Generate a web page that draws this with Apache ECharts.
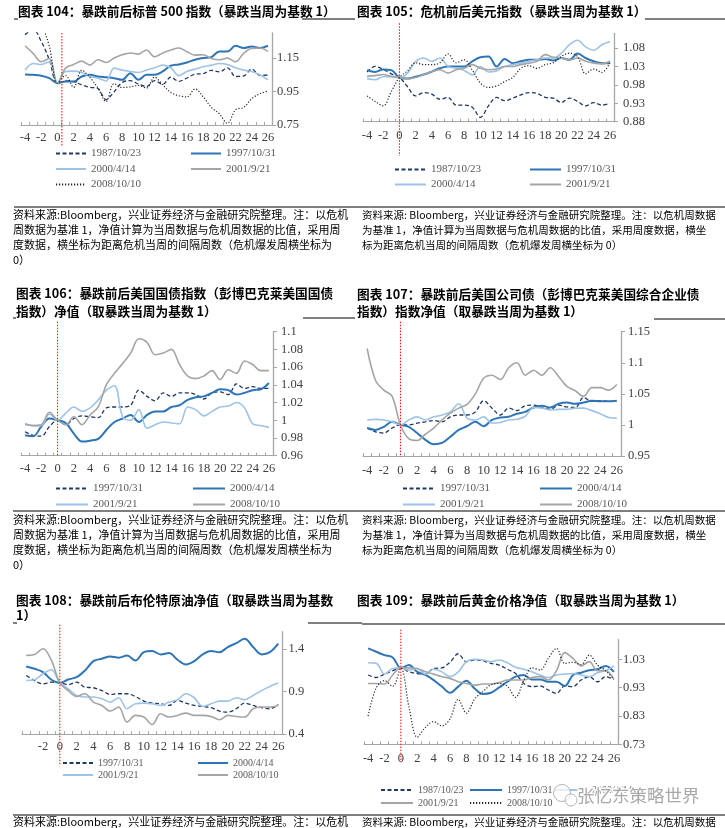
<!DOCTYPE html>
<html><head><meta charset="utf-8">
<script src="https://cdn.jsdelivr.net/npm/echarts/dist/echarts.min.js"></script>
<style>html,body{margin:0;padding:0;background:#fff}#c{width:725px;height:828px}</style>
</head><body><div id="c"></div>
<script>
const weeks = ['-4','-3','-2','-1','0','1','2','3','4','5','6','7','8','9','10','11','12','13','14','15','16','17','18','19','20','21','22','23','24','25','26'];

// 图表104 标普500
const sp1987 = [1.29,1.32,1.25,1.14,1.00,1.014,1.009,0.99,0.975,0.968,0.902,0.948,1.004,1.015,0.995,0.98,1.015,0.993,1.036,1.011,1.031,1.054,1.057,1.077,1.067,1.092,1.04,1.043,1.085,1.047,1.048];
const sp1997 = [1.052,1.05,1.045,1.03,1.0,1.01,1.01,1.04,1.05,1.04,1.035,1.03,1.02,1.06,1.02,1.05,1.05,1.07,1.104,1.112,1.124,1.14,1.15,1.156,1.19,1.19,1.224,1.21,1.22,1.21,1.224];
const sp2000 = [1.078,1.118,1.112,1.128,1.0,1.07,1.072,1.064,1.04,1.03,1.013,1.09,1.078,1.07,1.064,1.078,1.092,1.108,1.092,1.045,1.07,1.084,1.098,1.108,1.118,1.112,1.092,1.078,1.07,1.05,1.02];
const sp2001 = [1.224,1.178,1.128,1.148,1.0,1.09,1.112,1.132,1.108,1.14,1.124,1.15,1.17,1.18,1.174,1.198,1.158,1.18,1.198,1.21,1.188,1.168,1.17,1.148,1.14,1.15,1.128,1.178,1.208,1.21,1.19];
const sp2008 = [1.39,1.40,1.35,1.22,1.0,1.046,0.975,1.077,1.035,0.971,0.89,0.997,0.974,0.978,0.987,0.971,1.036,0.99,0.945,0.925,0.918,0.966,0.919,0.856,0.817,0.76,0.841,0.855,0.907,0.937,0.953];

// 图表105 美元指数
const dx1987 = [1.015,1.03,1.022,1.01,1.0,0.975,0.95,0.959,0.955,0.941,0.946,0.925,0.925,0.919,0.892,0.923,0.946,0.937,0.944,0.953,0.959,0.957,0.946,0.944,0.932,0.944,0.935,0.923,0.932,0.925,0.93];
const dx1997 = [1.02,1.015,1.022,1.02,1.0,0.997,1.002,1.008,1.016,1.025,1.03,1.03,1.03,1.044,1.055,1.057,1.03,1.05,1.039,1.044,1.048,1.048,1.05,1.046,1.053,1.048,1.065,1.053,1.044,1.039,1.039];
const dx2000 = [0.997,0.994,1.002,1.002,1.0,1.012,1.044,1.053,1.044,1.053,1.03,1.025,1.019,1.007,1.03,1.015,1.018,1.03,1.035,1.039,1.044,1.048,1.053,1.053,1.066,1.089,1.101,1.083,1.074,1.089,1.098];
const dx2001 = [1.003,1.005,1.008,1.003,1.0,0.997,1.0,1.008,1.016,1.021,1.012,1.021,1.025,1.035,1.025,1.021,1.023,1.03,1.03,1.035,1.039,1.044,1.062,1.055,1.053,1.048,1.053,1.044,1.039,1.037,1.044];
const dx2008 = [0.95,0.935,0.923,0.962,1.0,1.018,1.04,1.035,1.035,1.04,1.064,1.04,1.048,1.02,0.985,0.973,0.977,0.989,1.0,1.025,1.032,1.025,1.035,1.04,1.057,1.066,1.057,1.01,1.023,1.014,1.04];

// 图表106 美国国债指数
const ust1997 = [0.987,0.983,0.982,0.993,1.0,0.995,1.002,1.005,1.004,1.003,1.014,1.015,1.015,1.017,1.034,1.027,1.022,1.031,1.027,1.031,1.031,1.029,1.024,1.031,1.032,1.029,1.041,1.036,1.038,1.036,1.036];
const ust2000 = [0.983,0.982,0.993,1.002,1.0,0.997,0.985,0.976,0.977,0.979,0.989,0.998,1.002,1.006,0.998,1.006,1.01,1.01,1.015,1.017,1.023,1.026,1.027,1.031,1.035,1.034,1.029,1.031,1.034,1.035,1.042];
const ust2001 = [0.995,0.994,0.994,1.007,1.0,1.008,1.015,1.01,1.014,1.023,1.034,1.039,1.004,1.0,1.012,0.991,0.995,0.998,0.997,0.996,1.015,1.012,1.005,1.01,1.015,1.016,1.02,1.014,0.996,0.994,0.992];
const ust2008 = [0.996,0.994,0.995,1.009,1.0,0.995,1.004,0.995,1.006,1.015,1.04,1.053,1.064,1.076,1.092,1.088,1.074,1.076,1.08,1.063,1.05,1.047,1.05,1.056,1.046,1.057,1.053,1.067,1.063,1.056,1.056];

// 图表107 美国公司债
const corp1997 = [0.995,0.989,0.987,0.995,1.0,1.0,1.003,1.005,1.007,1.005,1.013,1.016,1.016,1.021,1.039,1.027,1.016,1.027,1.023,1.031,1.032,1.028,1.025,1.032,1.029,1.028,1.044,1.038,1.039,1.038,1.038];
const corp2000 = [0.995,0.992,0.997,1.005,1.0,0.997,0.987,0.976,0.969,0.971,0.981,0.992,0.998,1.005,0.998,1.008,1.012,1.013,1.018,1.021,1.028,1.031,1.028,1.034,1.036,1.034,1.036,1.039,1.038,1.038,1.039];
const corp2001 = [1.008,1.009,1.008,1.005,1.0,1.008,1.013,1.008,1.013,1.016,1.021,1.034,1.011,1.008,1.013,1.003,1.004,1.008,1.009,1.014,1.028,1.027,1.024,1.025,1.025,1.027,1.027,1.023,1.018,1.012,1.011];
const corp2008 = [1.123,1.072,1.056,1.046,1.0,0.978,0.975,0.985,0.995,1.008,1.019,1.027,1.033,1.05,1.075,1.08,1.073,1.092,1.1,1.08,1.088,1.08,1.092,1.078,1.062,1.055,1.046,1.06,1.06,1.056,1.065];

// 图表108 布伦特原油
const oil1997 = [1.087,1.027,0.988,1.008,1.0,0.98,1.008,0.949,0.943,0.91,0.865,0.873,0.873,0.84,0.787,0.763,0.756,0.736,0.795,0.763,0.736,0.724,0.709,0.67,0.658,0.697,0.763,0.736,0.709,0.697,0.748];
const oil2000 = [1.193,1.166,1.127,1.037,1.0,1.04,1.068,1.146,1.255,1.283,1.31,1.295,1.32,1.263,1.36,1.373,1.334,1.35,1.271,1.216,1.255,1.334,1.373,1.36,1.42,1.466,1.517,1.42,1.334,1.36,1.459];
const oil2001 = [1.029,1.037,1.107,1.154,1.0,0.93,0.853,0.834,0.834,0.814,0.775,0.826,0.697,0.756,0.763,0.756,0.736,0.775,0.802,0.873,0.826,0.724,0.756,0.787,0.787,0.826,0.802,0.853,0.91,0.959,0.998];
const oil2008 = [1.322,1.334,1.4,1.263,1.0,0.91,0.841,0.873,0.775,0.736,0.67,0.717,0.541,0.619,0.6,0.513,0.638,0.6,0.619,0.646,0.619,0.619,0.607,0.568,0.619,0.607,0.6,0.697,0.717,0.717,0.736];

// 图表109 黄金
const gold1987 = [0.975,0.966,0.978,0.99,1.0,0.986,0.98,0.978,0.998,1.0,1.02,1.05,1.022,1.028,1.025,1.016,1.01,0.995,0.98,0.945,0.934,0.936,0.922,0.91,0.936,0.934,0.957,0.969,0.951,0.969,0.959];
const gold1997 = [1.069,1.057,1.045,1.037,1.0,1.01,0.986,0.975,0.957,0.934,0.912,0.934,0.955,0.927,0.908,0.912,0.931,0.951,0.969,0.975,0.959,0.959,0.951,0.951,0.936,0.975,0.983,0.992,0.995,1.007,0.986];
const gold2000 = [1.018,1.016,0.978,0.998,1.0,0.992,0.998,0.978,0.995,0.986,0.969,0.986,1.022,1.03,1.028,1.022,1.028,1.018,1.002,0.995,0.986,0.975,0.966,0.975,0.978,0.98,0.975,0.969,0.983,0.99,1.007];
const gold2001 = [0.945,0.945,0.943,0.975,1.0,1.0,0.998,0.986,0.978,0.969,0.963,0.951,0.945,0.939,0.943,0.943,0.948,0.957,0.957,0.957,0.966,0.969,0.957,0.99,1.054,1.034,1.007,1.022,0.99,0.99,0.959];
const gold2008 = [0.83,0.93,0.955,0.935,1.0,0.86,0.755,0.79,0.81,0.795,0.82,0.889,0.84,0.89,0.916,0.94,0.945,0.935,0.896,0.955,1.0,0.993,1.034,1.069,1.016,1.02,1.012,1.045,1.01,0.99,0.96];

const STY = {
  dash:  {color:'#1f3864', width:1.3, type:[4,2.5]},
  blue:  {color:'#2e75b6', width:2},
  lblue: {color:'#9dc3e6', width:1.6},
  gray:  {color:'#a5a5a5', width:1.6},
  dot:   {color:'#262626', width:1.2, type:[1.2,1.8]}
};

const panels = [
  {id:'104', grid:{left:21, top:33, width:251, height:92}, y:{min:0.75,max:1.3,interval:0.2}, hideMax:true, ylm:5, xlm:6,
   series:[['1987/10/23',sp1987,'dash'],['1997/10/31',sp1997,'blue'],['2000/4/14',sp2000,'lblue'],['2001/9/21',sp2001,'gray'],['2008/10/10',sp2008,'dot']],
   legends:[{left:55,top:148,gap:4.5,names:['1987/10/23','2000/4/14','2008/10/10']},{left:190,top:148,gap:4.5,names:['1997/10/31','2001/9/21']}],
   lfs:11, liw:30, red:[0.55,0,22]},
  {id:'105', grid:{left:363, top:33.3, width:251, height:88.4}, y:{min:0.88,max:1.12,interval:0.05}, hideMax:true, ylm:9, xlm:8,
   series:[['1987/10/23',dx1987,'dash'],['1997/10/31',dx1997,'blue'],['2000/4/14',dx2000,'lblue'],['2001/9/21',dx2001,'gray'],['2008/10/10',dx2008,'dot']],
   legends:[{left:394,top:164,gap:4,names:['1987/10/23','2000/4/14']},{left:529,top:164,gap:4,names:['1997/10/31','2001/9/21']}],
   lfs:11, liw:31, red:[0,10,34]},
  {id:'106', grid:{left:21, top:331.7, width:252, height:124}, y:{min:0.96,max:1.1,interval:0.02}, hideMax:false, ylm:8, xlm:7,
   series:[['1997/10/31',ust1997,'dash'],['2000/4/14',ust2000,'blue'],['2001/9/21',ust2001,'lblue'],['2008/10/10',ust2008,'gray']],
   legends:[{left:55,top:483,gap:5,names:['1997/10/31','2001/9/21']},{left:192,top:483,gap:5,names:['2000/4/14','2008/10/10']}],
   lfs:11, liw:32, red:[0,10,0]},
  {id:'107', grid:{left:363, top:331.7, width:258, height:124.3}, y:{min:0.95,max:1.15,interval:0.05}, hideMax:false, ylm:7, xlm:8,
   series:[['1997/10/31',corp1997,'dash'],['2000/4/14',corp2000,'blue'],['2001/9/21',corp2001,'lblue'],['2008/10/10',corp2008,'gray']],
   legends:[{left:402,top:483,gap:5,names:['1997/10/31','2001/9/21']},{left:539,top:483,gap:5,names:['2000/4/14','2008/10/10']}],
   lfs:11, liw:32, red:[0,10,1]},
  {id:'108', grid:{left:22, top:631.7, width:260.5, height:102.4}, y:{min:0.4,max:1.6,interval:0.5}, hideMax:true, ylm:6, xlm:6.5,
   xInterval:function(idx,val){return idx%2===0 && val!=='-4';},
   series:[['1997/10/31',oil1997,'dash'],['2000/4/14',oil2000,'blue'],['2001/9/21',oil2001,'lblue'],['2008/10/10',oil2008,'gray']],
   legends:[{left:62,top:758,gap:2,names:['1997/10/31','2001/9/21']},{left:197,top:758,gap:2,names:['2000/4/14','2008/10/10']}],
   lfs:10, liw:30, red:[0,7,31]},
  {id:'109', grid:{left:364, top:639.6, width:254, height:104.7}, y:{min:0.73,max:1.1,interval:0.1}, hideMax:true, ylm:5, xlm:8,
   series:[['1987/10/23',gold1987,'dash'],['1997/10/31',gold1997,'blue'],['2000/4/14',gold2000,'lblue'],['2001/9/21',gold2001,'gray'],['2008/10/10',gold2008,'dot']],
   legends:[{left:380,top:785,gap:3,names:['1987/10/23','2001/9/21']},{left:469,top:785,gap:3,names:['1997/10/31','2008/10/10']},{left:554,top:785,gap:3,names:['2000/4/14']}],
   lfs:10, liw:32, red:[0,10,18]}
];

const TITLE_FONT = 'bold 12.7px "Noto Sans CJK SC"';
const NOTE_FONT = '11px "Noto Sans CJK SC"';
const NOTE_FONT_R = '10.5px "Noto Sans CJK SC"';
function txt(text, x, y, font, fill){
  return {type:'text', z:60, style:{text:text, x:x, y:y, font:font, fill:fill||'#000', verticalAlign:'middle', textVerticalAlign:'middle'}};
}
function rule(x1, x2, y){
  return {type:'line', z:60, shape:{x1:x1, y1:y, x2:x2, y2:y}, style:{stroke:'#000', lineWidth:1}};
}
const notesL = ['资料来源:Bloomberg，兴业证券经济与金融研究院整理。注：以危机','周数据为基准 1，净值计算为当周数据与危机周数据的比值，采用周','度数据，横坐标为距离危机当周的间隔周数（危机爆发周横坐标为','0）'];
const notesR = ['资料来源: Bloomberg，兴业证券经济与金融研究院整理。注：以危机周数据','为基准 1，净值计算为当周数据与危机周数据的比值，采用周度数据，横坐','标为距离危机当周的间隔周数（危机爆发周横坐标为 0）'];

const staticG = [
  txt('图表 104：暴跌前后标普 500 指数（暴跌当周为基数 1）', 18, 11, TITLE_FONT),
  txt('图表 105：危机前后美元指数（暴跌当周为基数 1）', 357, 11, TITLE_FONT),
  txt('图表 106：暴跌前后美国国债指数（彭博巴克莱美国国债', 16, 293, TITLE_FONT),
  txt('指数）净值（取暴跌当周为基数 1）', 16, 311, TITLE_FONT),
  txt('图表 107：暴跌前后美国公司债（彭博巴克莱美国综合企业债', 357, 294, TITLE_FONT),
  txt('指数）指数净值（取暴跌当周为基数 1）', 357, 311, TITLE_FONT),
  txt('图表 108：暴跌前后布伦特原油净值（取暴跌当周为基数', 16, 600, TITLE_FONT),
  txt('1）', 16, 615, TITLE_FONT),
  txt('图表 109：暴跌前后黄金价格净值（取暴跌当周为基数 1）', 357, 600, TITLE_FONT),
  rule(14,18,19), rule(302,355,19), rule(645,725,19),
  rule(13,16,318), rule(303,355,318), rule(654,725,319),
  rule(13,17,623), rule(308,362,623), rule(362,725,624),
  rule(14,725,207), rule(13,725,511), rule(13,725,815)
];
notesL.forEach((t,k)=>{ staticG.push(txt(t, 13, 215+k*15, NOTE_FONT)); staticG.push(txt(t, 13, 520+k*15, NOTE_FONT)); });
notesR.forEach((t,k)=>{ staticG.push(txt(t, 362, 215+k*15, NOTE_FONT_R)); staticG.push(txt(t, 362, 520+k*15, NOTE_FONT_R)); });
staticG.push(txt(notesL[0], 13, 822, NOTE_FONT));
staticG.push(txt(notesR[0], 362, 822, NOTE_FONT_R));
// watermark
staticG.push({type:'circle', z:100, shape:{cx:562, cy:793, r:8.5}, style:{fill:'rgba(255,255,255,0.7)', stroke:'#b5b5b5', lineWidth:1}});
staticG.push({type:'circle', z:101, shape:{cx:571, cy:800, r:6}, style:{fill:'rgba(255,255,255,0.7)', stroke:'#b5b5b5', lineWidth:1}});
staticG.push({type:'text', z:102, style:{text:'张忆东策略世界', x:577, y:795, font:'17.5px "Noto Sans CJK SC"', fill:'#a8a8a8', stroke:'rgba(255,255,255,0.9)', lineWidth:3, strokeFirst:true, verticalAlign:'middle', textVerticalAlign:'middle'}});

const AX = '#a6a6a6', LBL = '#404040';
const option = {
  animation:false,
  backgroundColor:'#fff',
  grid: panels.map(p=>Object.assign({containLabel:false}, p.grid)),
  xAxis: panels.map((p,i)=>({type:'category', gridIndex:i, data:weeks, boundaryGap:true,
    axisLine:{show:true, lineStyle:{color:AX, width:1}},
    axisTick:{show:true, inside:true, length:3, interval:0, lineStyle:{color:AX}},
    axisLabel:{interval:p.xInterval||1, margin:p.xlm, color:LBL, fontFamily:'Liberation Serif', fontSize:12.5},
    splitLine:{show:false}})),
  yAxis: panels.map((p,i)=>({type:'value', gridIndex:i, position:'right', min:p.y.min, max:p.y.max, interval:p.y.interval,
    axisLine:{show:true, lineStyle:{color:AX, width:1.3}},
    axisTick:{show:true, inside:false, length:4, lineStyle:{color:AX}},
    axisLabel:{showMaxLabel:!p.hideMax, margin:p.ylm, color:LBL, fontFamily:'Liberation Serif', fontSize:12.5},
    splitLine:{show:false}})),
  legend: [],
  series: [],
  graphic: staticG
};
panels.forEach((p,i)=>{
  p.series.forEach(([nm,data,st])=>{
    const s = STY[st];
    option.series.push({type:'line', name:p.id+'|'+nm, xAxisIndex:i, yAxisIndex:i, data:data,
      smooth:0.35, symbol:'none', showSymbol:false, clip:true,
      lineStyle:{color:s.color, width:s.width, type:s.type||'solid'}, itemStyle:{color:s.color},
      emphasis:{disabled:true}});
  });
  p.legends.forEach(l=>{
    option.legend.push({left:l.left, top:l.top, orient:'vertical', itemGap:l.gap, itemWidth:p.liw, itemHeight:10, padding:0,
      data:l.names.map(n=>p.id+'|'+n), formatter:function(n){return n.split('|')[1];},
      itemStyle:{opacity:0, borderWidth:0},
      selectedMode:false, textStyle:{fontFamily:'Liberation Serif', fontSize:p.lfs, color:'#595959'}});
  });
});

const chart = echarts.init(document.getElementById('c'));
chart.setOption(option);

// red dotted marker line at the crash week, positioned through the axes' own scales
const reds = panels.map((p,i)=>{
  const x0 = chart.convertToPixel({xAxisIndex:i}, '0');
  const x1 = chart.convertToPixel({xAxisIndex:i}, '1');
  const x = x0 + p.red[0]*(x1-x0);
  const yTop = chart.convertToPixel({yAxisIndex:i}, p.y.max) - p.red[1];
  const yBot = chart.convertToPixel({yAxisIndex:i}, p.y.min) + p.red[2];
  return {type:'line', z:50, shape:{x1:x, y1:yTop, x2:x, y2:yBot}, style:{stroke:'#ff0000', lineWidth:1, lineDash:[1.5,1.5]}};
});
chart.setOption({graphic: staticG.concat(reds)});
</script>
</body></html>
